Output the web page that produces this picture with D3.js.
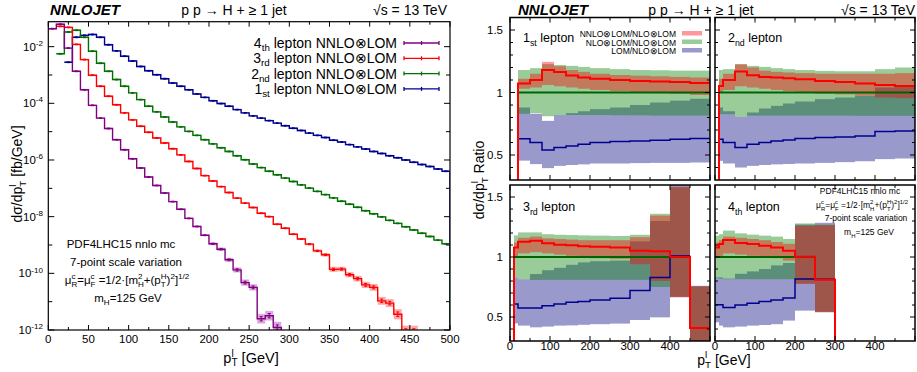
<!DOCTYPE html>
<html>
<head>
<meta charset="utf-8">
<script src="https://cdn.jsdelivr.net/npm/d3@7"></script>
<style>
  body { margin: 0; background: #fff; }
  svg { display: block; }
  text { font-family: "Liberation Sans", Arial, Helvetica, sans-serif; fill: #000; }
</style>
</head>
<body>
<script>
// ---------- data: dσ/dpT [fb/GeV], 10 GeV bins from 0 to 500 (null = empty bin)
const binW = 10

const lep1 = [null, null, 2.82e-3, 2.14e-2, 2.51e-2, 2.69e-2, 2.14e-2, 1.17e-2, 7.1e-3, 4.6e-3,
  3.1e-3, 2.0e-3, 1.41e-3, 1.02e-3, 7.4e-4, 5.2e-4, 4.0e-4, 3.0e-4, 2.14e-4, 1.62e-4,
  1.23e-4, 9.8e-5, 7.9e-5, 6.0e-5, 4.6e-5, 3.6e-5, 3.0e-5, 2.45e-5, 2.0e-5, 1.62e-5,
  1.32e-5, 1.10e-5, 8.9e-6, 7.4e-6, 6.2e-6, 5.0e-6, 4.3e-6, 3.5e-6, 2.9e-6, 2.45e-6,
  2.0e-6, 1.70e-6, 1.41e-6, 1.20e-6, 1.0e-6, 8.3e-7, 6.9e-7, 5.9e-7, 4.8e-7, 4.0e-7]

const lep2 = [null, 5.6e-3, 3.3e-2, 3.8e-2, 2.14e-2, 6.9e-3, 2.6e-3, 1.35e-3, 6.9e-4, 4.0e-4,
  2.34e-4, 1.35e-4, 7.9e-5, 5.0e-5, 3.3e-5, 2.2e-5, 1.48e-5, 1.02e-5, 7.4e-6, 5.2e-6,
  3.7e-6, 2.7e-6, 2.0e-6, 1.41e-6, 1.02e-6, 7.2e-7, 5.4e-7, 4.0e-7, 3.0e-7, 2.3e-7,
  1.74e-7, 1.32e-7, 1.02e-7, 7.8e-8, 6.0e-8, 4.6e-8, 3.5e-8, 2.75e-8, 2.14e-8, 1.62e-8,
  1.26e-8, 9.8e-9, 7.4e-9, 5.8e-9, 4.4e-9, 3.4e-9, 2.6e-9, 2.0e-9, 1.48e-9, 1.10e-9]

const lep3 = [null, 5.2e-2, 4.8e-2, 1.20e-2, 3.5e-3, 9.8e-4, 4.0e-4, 1.78e-4, 8.9e-5, 4.6e-5,
  2.6e-5, 1.55e-5, 9.5e-6, 6.0e-6, 4.0e-6, 2.5e-6, 1.51e-6, 8.9e-7, 5.0e-7, 2.8e-7,
  1.82e-7, 1.15e-7, 7.1e-8, 4.5e-8, 3.0e-8, 2.1e-8, 1.32e-8, 1.0e-8, 5.4e-9, 3.9e-9,
  2.4e-9, 1.62e-9, 1.07e-9, 6.2e-10, 4.5e-10, 1.38e-10, 1.41e-10, 8.9e-11, 6.5e-11, 3.9e-11,
  3.2e-11, 1.07e-11, 8.9e-12, 3.6e-12, 9e-13, 9e-13]

const lep4 = [4.3e-2, 6.2e-2, 8.9e-3, 1.35e-3, 3.0e-4, 8.5e-5, 3.0e-5, 1.29e-5, 5.2e-6, 2.3e-6,
  1.10e-6, 5.2e-7, 2.5e-7, 1.26e-7, 6.8e-8, 3.4e-8, 1.82e-8, 8.7e-9, 4.5e-9, 2.2e-9,
  1.10e-9, 7.1e-10, 3.0e-10, 1.32e-10, 4.7e-11, 3.2e-11, 2.5e-12, 3.2e-12, 1.23e-12]

// scale-uncertainty half widths, in decades
const err1 = [0, 0, 0.03, 0.03, 0.03, 0.03, 0.03, 0.03, 0.03, 0.03,
  0.03, 0.03, 0.03, 0.03, 0.03, 0.03, 0.03, 0.03, 0.03, 0.03,
  0.03, 0.03, 0.03, 0.03, 0.03, 0.03, 0.03, 0.03, 0.03, 0.03,
  0.03, 0.03, 0.03, 0.03, 0.03, 0.03, 0.03, 0.03, 0.03, 0.03,
  0.03, 0.03, 0.03, 0.03, 0.03, 0.03, 0.03, 0.03, 0.03, 0.03]
const err2 = err1.map((e, i) => i === 1 ? 0.03 : e)
const err3 = [0, 0.03, 0.03, 0.03, 0.03, 0.03, 0.03, 0.03, 0.03, 0.03,
  0.03, 0.03, 0.03, 0.03, 0.03, 0.03, 0.03, 0.03, 0.03, 0.03,
  0.03, 0.03, 0.03, 0.03, 0.03, 0.03, 0.03, 0.03, 0.03, 0.03,
  0.03, 0.03, 0.04, 0.05, 0.06, 0.09, 0.08, 0.09, 0.10, 0.11,
  0.12, 0.14, 0.14, 0.18, 0.20, 0.20]
const err4 = [0.03, 0.03, 0.03, 0.03, 0.03, 0.03, 0.03, 0.03, 0.03, 0.03,
  0.03, 0.03, 0.03, 0.03, 0.03, 0.03, 0.03, 0.03, 0.03, 0.03,
  0.05, 0.06, 0.07, 0.09, 0.11, 0.11, 0.17, 0.17, 0.20]

const legendRows = [
  { n: '4', sfx: 'th', vals: lep4, err: err4, color: '#800080', band: '#ddaadd' },
  { n: '3', sfx: 'rd', vals: lep3, err: err3, color: '#ff0000', band: '#ffaaaa' },
  { n: '2', sfx: 'nd', vals: lep2, err: err2, color: '#007000', band: '#a8d8a8' },
  { n: '1', sfx: 'st', vals: lep1, err: err1, color: '#000090', band: '#aaaadd' }
]

// ---------- ratio panels: bin edges and per-bin values (null = empty)
const edges = [0, 10, 20, 50, 80, 110, 140, 170, 200, 250, 300, 350, 400, 450, 500]

const ratio1 = {
  nnlo:   [null, null, 1.072, 1.10, 1.18, 1.165, 1.137, 1.12, 1.11, 1.10, 1.093, 1.088, 1.085, 1.077],
  nnloLo: [null, null, 1.03, 1.04, 1.06, 1.05, 1.04, 1.03, 1.02, 1.01, 1.0, 0.995, 0.99, 0.98],
  nnloHi: [null, null, 1.11, 1.15, 1.245, 1.21, 1.18, 1.165, 1.15, 1.14, 1.135, 1.13, 1.125, 1.12],
  nloLo:  [null, null, 0.83, 0.835, 0.81, 0.82, 0.82, 0.82, 0.82, 0.818, 0.817, 0.815, 0.815, 0.815],
  nloHi:  [null, null, 1.18, 1.195, 1.227, 1.22, 1.213, 1.205, 1.195, 1.187, 1.18, 1.178, 1.175, 1.175],
  nlo:    [null, null, 1, 1, 1, 1, 1, 1, 1, 1, 1, 1, 1, 1],
  lomLo:  [null, null, 0.455, 0.427, 0.395, 0.413, 0.42, 0.425, 0.432, 0.432, 0.435, 0.437, 0.437, 0.44],
  lomHi:  [null, null, 0.88, 0.83, 0.773, 0.82, 0.835, 0.85, 0.867, 0.88, 0.9, 0.92, 0.935, 0.95],
  lom:    [null, null, 0.63, 0.6, 0.541, 0.56, 0.573, 0.587, 0.6, 0.608, 0.613, 0.619, 0.627, 0.632]
}
const ratio2 = {
  nnlo:   [null, 1.053, 1.10, 1.168, 1.139, 1.125, 1.12, 1.115, 1.107, 1.093, 1.085, 1.072, 1.061, 1.053],
  nnloLo: [null, 1.0, 1.02, 1.05, 1.04, 1.03, 1.02, 1.01, 1.0, 0.99, 0.985, 0.975, 0.96, 0.955],
  nnloHi: [null, 1.11, 1.15, 1.225, 1.2, 1.175, 1.165, 1.16, 1.155, 1.15, 1.15, 1.15, 1.15, 1.155],
  nloLo:  [null, 0.827, 0.827, 0.805, 0.815, 0.815, 0.815, 0.815, 0.815, 0.815, 0.815, 0.813, 0.813, 0.813],
  nloHi:  [null, 1.18, 1.187, 1.227, 1.213, 1.205, 1.195, 1.187, 1.18, 1.173, 1.17, 1.17, 1.187, 1.2],
  nlo:    [null, 1, 1, 1, 1, 1, 1, 1, 1, 1, 1, 1, 1, 1],
  lomLo:  [null, 0.453, 0.432, 0.4, 0.413, 0.42, 0.425, 0.428, 0.432, 0.437, 0.443, 0.45, 0.467, 0.472],
  lomHi:  [null, 0.88, 0.85, 0.805, 0.84, 0.872, 0.893, 0.912, 0.928, 0.947, 0.96, 0.973, 1.04, 1.045],
  lom:    [null, 0.627, 0.6, 0.56, 0.587, 0.6, 0.613, 0.621, 0.632, 0.64, 0.645, 0.653, 0.688, 0.693]
}
const ratio3 = {
  nnlo:   [null, 1.08, 1.128, 1.136, 1.114, 1.103, 1.097, 1.089, 1.086, 1.08, 1.053, 1.047, 1.003, 0.408],
  nnloLo: [null, 1.0, 1.03, 1.04, 1.03, 1.02, 1.01, 1.0, 0.99, 0.985, 0.94, 0.80, 0.665, 0.2],
  nnloHi: [null, 1.12, 1.16, 1.17, 1.155, 1.15, 1.145, 1.14, 1.14, 1.14, 1.165, 1.345, 1.585, 0.755],
  nloLo:  [null, 0.83, 0.815, 0.808, 0.81, 0.81, 0.81, 0.81, 0.81, 0.81, 0.81, 0.75, 0.67, 0.2],
  nloHi:  [null, 1.18, 1.205, 1.205, 1.19, 1.185, 1.183, 1.18, 1.178, 1.175, 1.185, 1.36, 1.58, 0.755],
  nlo:    [null, 1, 1, 1, 1, 1, 1, 1, 1, 1, 1, 1, 1, null],
  lomLo:  [null, 0.447, 0.428, 0.414, 0.42, 0.428, 0.43, 0.435, 0.44, 0.445, 0.475, 0.497, 0.665, 0.2],
  lomHi:  [null, 0.83, 0.815, 0.858, 0.89, 0.91, 0.935, 0.955, 0.965, 0.97, 1.13, 1.30, 1.62, 0.76],
  lom:    [null, 0.608, 0.575, 0.575, 0.594, 0.608, 0.622, 0.63, 0.642, 0.656, 0.72, 0.83, 1.01, null]
}
const ratio4 = {
  nnlo:   [1.08, 1.108, 1.142, 1.117, 1.108, 1.094, 1.08, 1.053, 1.003, 0.811, null, null, null, null],
  nnloLo: [1.0, 1.01, 1.03, 1.02, 1.01, 1.0, 0.99, 0.97, 0.775, 0.54, null, null, null, null],
  nnloHi: [1.12, 1.14, 1.17, 1.16, 1.15, 1.14, 1.125, 1.11, 1.26, 1.265, null, null, null, null],
  nloLo:  [0.825, 0.82, 0.815, 0.815, 0.815, 0.815, 0.815, 0.815, 0.78, 0.545, null, null, null, null],
  nloHi:  [1.178, 1.19, 1.22, 1.197, 1.186, 1.178, 1.17, 1.15, 1.28, 1.27, null, null, null, null],
  nlo:    [1, 1, 1, 1, 1, 1, 1, 1, 1, null, null, null, null, null],
  lomLo:  [0.456, 0.428, 0.414, 0.42, 0.428, 0.433, 0.44, 0.47, 0.553, 0.54, null, null, null, null],
  lomHi:  [0.83, 0.83, 0.82, 0.86, 0.88, 0.9, 0.93, 0.95, 1.27, 1.285, null, null, null, null],
  lom:    [0.603, 0.603, 0.58, 0.6, 0.614, 0.63, 0.642, 0.658, 0.817, 0.814, null, null, null, null]
}

const xTicksLeft = d3.range(0, 501, 50)
const yTicksLeft = [1e-2, 1e-4, 1e-6, 1e-8, 1e-10, 1e-12]
const ratioTicks = [0.5, 1, 1.5]
const ratioXTicks = [0, 100, 200, 300, 400]

// ---------- helpers
const svg = d3.select('body').append('svg').attr('width', 917).attr('height', 372)

// text with sub/superscripts; kind ending in "@" is stacked over the previous piece
function rich(g, x, y, parts, size, anchor = 'start', subOff = 0.3, supOff = 0.42) {
  const t = g.append('text').attr('x', x).attr('y', y).attr('font-size', size).attr('text-anchor', anchor)
  let base = 0, prevLen = 0, pend = 0
  for (const p of parts) {
    const [s, k] = Array.isArray(p) ? p : [p, '']
    const off = k.startsWith('sub') ? subOff * size : k.startsWith('sup') ? -supOff * size : 0
    const ts = t.append('tspan').attr('dy', off - base).attr('font-size', k ? size * 0.7 : size).text(s)
    let dx = pend
    if (k.endsWith('@')) dx -= prevLen
    if (dx) ts.attr('dx', dx)
    const len = ts.node().getComputedTextLength()
    pend = k.endsWith('@') ? Math.max(0, prevLen - len) : 0
    prevLen = len
    base = off
  }
  return t
}

function title(x0, xc, x1) {
  svg.append('text').attr('x', x0).attr('y', 15).attr('font-size', 15)
    .attr('font-weight', 'bold').attr('font-style', 'italic').text('NNLOJET')
  svg.append('text').attr('x', xc).attr('y', 15).attr('font-size', 14)
    .attr('text-anchor', 'middle').text('p p → H + ≥ 1 jet')
  svg.append('text').attr('x', x1).attr('y', 15).attr('font-size', 14)
    .attr('text-anchor', 'end').text('√s  = 13 TeV')
}

// ---------- left panel
const L = { x0: 48.3, x1: 450, y0: 21.7, y1: 330 }
const xL = d3.scaleLinear().domain([0, 500]).range([L.x0, L.x1])
const yL = d3.scaleLog().domain([1e-12, 0.076]).range([L.y1, L.y0])

svg.append('clipPath').attr('id', 'clipL').append('rect')
  .attr('x', L.x0).attr('y', L.y0).attr('width', L.x1 - L.x0).attr('height', L.y1 - L.y0)
const gL = svg.append('g').attr('clip-path', 'url(#clipL)')

function stepLog(vals) {
  let d = '', open = false
  vals.forEach((v, i) => {
    if (v == null) { if (open) d += `L${xL(i * binW)},${L.y1 + 2}`; open = false; return }
    const yy = Math.min(L.y1 + 2, yL(v))
    d += (open ? 'L' : 'M') + `${xL(i * binW)},${yy}L${xL((i + 1) * binW)},${yy}`
    open = true
  })
  if (open) d += `L${xL(vals.length * binW)},${L.y1 + 2}`
  return d
}

// bands
legendRows.slice().reverse().forEach(s => {
  gL.append('g').selectAll('rect')
    .data(s.vals.map((v, i) => ({ v, i, e: s.err[i] })).filter(d => d.v != null))
    .join('rect')
    .attr('x', d => xL(d.i * binW))
    .attr('width', xL(binW) - xL(0))
    .attr('y', d => yL(d.v * Math.pow(10, d.e)))
    .attr('height', d => Math.max(0, yL(d.v * Math.pow(10, -d.e)) - yL(d.v * Math.pow(10, d.e))))
    .attr('fill', s.band)
})
// lines + error bars
legendRows.slice().reverse().forEach(s => {
  gL.append('path').attr('d', stepLog(s.vals)).attr('fill', 'none')
    .attr('stroke', s.color).attr('stroke-width', 1.4)
  const eb = s.vals.map((v, i) => ({ v, i, e: s.err[i] * 0.45 })).filter(d => d.v != null)
  const g = gL.append('g').attr('stroke', s.color).attr('stroke-width', 1)
  eb.forEach(d => {
    const cx = xL((d.i + 0.5) * binW)
    const ya = yL(d.v * Math.pow(10, d.e)), yb = yL(d.v * Math.pow(10, -d.e))
    g.append('line').attr('x1', cx).attr('x2', cx).attr('y1', ya).attr('y2', yb)
    g.append('line').attr('x1', cx - 1.5).attr('x2', cx + 1.5).attr('y1', ya).attr('y2', ya)
    g.append('line').attr('x1', cx - 1.5).attr('x2', cx + 1.5).attr('y1', yb).attr('y2', yb)
  })
})

// frame + ticks
svg.append('rect').attr('x', L.x0).attr('y', L.y0).attr('width', L.x1 - L.x0).attr('height', L.y1 - L.y0)
  .attr('fill', 'none').attr('stroke', '#000').attr('stroke-width', 1.2)
const tk = svg.append('g').attr('stroke', '#000').attr('stroke-width', 1)
d3.range(0, 501, 25).forEach(v => {
  const len = v % 50 === 0 ? 5 : 3
  tk.append('line').attr('x1', xL(v)).attr('x2', xL(v)).attr('y1', L.y1).attr('y2', L.y1 - len)
  tk.append('line').attr('x1', xL(v)).attr('x2', xL(v)).attr('y1', L.y0).attr('y2', L.y0 + len)
})
d3.range(-12, -1).forEach(p => {
  const yy = yL(Math.pow(10, p))
  const len = p % 2 === 0 ? 6 : 4
  tk.append('line').attr('x1', L.x0).attr('x2', L.x0 + len).attr('y1', yy).attr('y2', yy)
  tk.append('line').attr('x1', L.x1).attr('x2', L.x1 - len).attr('y1', yy).attr('y2', yy)
})
xTicksLeft.forEach(v => {
  svg.append('text').attr('x', xL(v)).attr('y', 343).attr('font-size', 11.5)
    .attr('text-anchor', 'middle').text(v)
})
yTicksLeft.forEach(v => {
  rich(svg, 43, yL(v) + 4, ['10', [String(Math.round(Math.log10(v))), 'sup']], 11.5, 'end')
})
rich(svg, 251, 363, ['p', ['T', 'sub'], ['l', 'sup@'], ' [GeV]'], 14.5, 'middle', 0.22)
rich(svg, 0, 0, ['dσ/dp', ['T', 'sub'], ['l', 'sup@'], ' [fb/GeV]'], 14, 'middle')
  .attr('transform', 'translate(22,174) rotate(-90)')

// legend
legendRows.forEach((s, i) => {
  const yy = 48 + i * 15.3
  rich(svg, 397, yy, [s.n, [s.sfx, 'sub'], ' lepton NNLO⊗LOM'], 14, 'end', 0.22)
  const ly = yy - 5
  const g = svg.append('g').attr('stroke', s.color).attr('stroke-width', 1.3)
  g.append('line').attr('x1', 404).attr('x2', 439).attr('y1', ly).attr('y2', ly)
  ;[404, 421.5, 439].forEach(x => g.append('line').attr('x1', x).attr('x2', x).attr('y1', ly - 2).attr('y2', ly + 2))
})

// annotation
const annL = svg.append('g')
rich(annL, 121, 248, ['PDF4LHC15 nnlo mc'], 11.5, 'middle')
rich(annL, 126, 266, ['7-point scale variation'], 11.5, 'middle')
rich(annL, 127, 284, ['μ', ['R', 'sub'], ['c', 'sup@'], '=μ', ['F', 'sub'], ['c', 'sup@'],
  ' =1/2·[m', ['2', 'sup'], ['H', 'sub@'], '+(p', ['T', 'sub'], ['H', 'sup@'], ')', ['2', 'sup'], ']', ['1/2', 'sup']], 11.5, 'middle')
rich(annL, 128, 302, ['m', ['H', 'sub'], '=125 GeV'], 11.5, 'middle')

title(50, 234, 447)

// ---------- ratio panels
const panels = [
  { x0: 510, x1: 710, y0: 17.5, y1: 180, d: ratio1, lab: ['1', ['st', 'sub'], ' lepton'], ly: 42, yl: true, legend: true },
  { x0: 715, x1: 915, y0: 17.5, y1: 180, d: ratio2, lab: ['2', ['nd', 'sub'], ' lepton'], ly: 42 },
  { x0: 510, x1: 710, y0: 185, y1: 341, d: ratio3, lab: ['3', ['rd', 'sub'], ' lepton'], ly: 211, yl: true, xl: true },
  { x0: 715, x1: 915, y0: 185, y1: 341, d: ratio4, lab: ['4', ['th', 'sub'], ' lepton'], ly: 211, xl: true, annot: true }
]

const bandStyle = [
  { lo: 'lomLo', hi: 'lomHi', fill: '#000080' },
  { lo: 'nloLo', hi: 'nloHi', fill: '#008000' },
  { lo: 'nnloLo', hi: 'nnloHi', fill: '#ff0000' }
]

panels.forEach((p, k) => {
  const x = d3.scaleLinear().domain([0, 500]).range([p.x0, p.x1])
  const y = d3.scaleLinear().domain([0.3, 1.6]).range([p.y1, p.y0])
  const id = 'clipR' + k
  svg.append('clipPath').attr('id', id).append('rect')
    .attr('x', p.x0).attr('y', p.y0).attr('width', p.x1 - p.x0).attr('height', p.y1 - p.y0)
  const g = svg.append('g').attr('clip-path', `url(#${id})`)

  bandStyle.forEach(b => {
    g.append('g').selectAll('rect')
      .data(p.d[b.lo].map((lo, i) => ({ lo, hi: p.d[b.hi][i], i })).filter(d => d.lo != null))
      .join('rect')
      .attr('x', d => x(edges[d.i]))
      .attr('width', d => x(edges[d.i + 1]) - x(edges[d.i]))
      .attr('y', d => y(d.hi))
      .attr('height', d => y(d.lo) - y(d.hi))
      .attr('fill', b.fill).attr('fill-opacity', 0.4)
  })

  function step(vals, drop) {
    let d = '', open = false
    const bot = p.y1 + 3
    vals.forEach((v, i) => {
      if (v == null) {
        if (open && drop) d += `L${x(edges[i])},${bot}`
        open = false
        return
      }
      if (!open) d += drop && i > 0 ? `M${x(edges[i])},${bot}L${x(edges[i])},${y(v)}` : `M${x(edges[i])},${y(v)}`
      else d += `L${x(edges[i])},${y(v)}`
      d += `L${x(edges[i + 1])},${y(v)}`
      open = true
    })
    return d
  }
  g.append('path').attr('d', step(p.d.nlo, false)).attr('fill', 'none').attr('stroke', '#006400').attr('stroke-width', 2)
  g.append('path').attr('d', step(p.d.lom, false)).attr('fill', 'none').attr('stroke', '#000090').attr('stroke-width', 1.5)
  g.append('path').attr('d', step(p.d.nnlo, true)).attr('fill', 'none').attr('stroke', '#ff0000').attr('stroke-width', 2)

  // frame + ticks
  svg.append('rect').attr('x', p.x0).attr('y', p.y0).attr('width', p.x1 - p.x0).attr('height', p.y1 - p.y0)
    .attr('fill', 'none').attr('stroke', '#000').attr('stroke-width', 1.5)
  const t = svg.append('g').attr('stroke', '#000').attr('stroke-width', 1)
  d3.range(0, 501, 50).forEach(v => {
    const len = v % 100 === 0 ? 5 : 3
    t.append('line').attr('x1', x(v)).attr('x2', x(v)).attr('y1', p.y1).attr('y2', p.y1 - len)
    t.append('line').attr('x1', x(v)).attr('x2', x(v)).attr('y1', p.y0).attr('y2', p.y0 + len)
  })
  d3.range(4, 16).forEach(j => {
    const v = j / 10
    const len = j % 5 === 0 ? 5 : 3
    t.append('line').attr('x1', p.x0).attr('x2', p.x0 + len).attr('y1', y(v)).attr('y2', y(v))
    t.append('line').attr('x1', p.x1).attr('x2', p.x1 - len).attr('y1', y(v)).attr('y2', y(v))
  })
  if (p.yl) ratioTicks.forEach(v => {
    svg.append('text').attr('x', 503).attr('y', y(v) + 4).attr('font-size', 11.5)
      .attr('text-anchor', 'end').text(v)
  })
  if (p.xl) ratioXTicks.forEach(v => {
    svg.append('text').attr('x', x(v)).attr('y', 350).attr('font-size', 11.5)
      .attr('text-anchor', 'middle').text(v)
  })
  rich(svg, p.x0 + 13, p.ly, p.lab, 12.5)

  if (p.legend) {
    const items = [['NNLO⊗LOM/NLO⊗LOM', '#ff0000'], ['NLO⊗LOM/NLO⊗LOM', '#008000'], ['LOM/NLO⊗LOM', '#000080']]
    items.forEach(([txt, c], i) => {
      const yy = 37 + i * 8.5
      svg.append('text').attr('x', 676).attr('y', yy).attr('font-size', 8.5).attr('text-anchor', 'end').text(txt)
      svg.append('rect').attr('x', 682).attr('y', yy - 6).attr('width', 20).attr('height', 4.5)
        .attr('fill', c).attr('fill-opacity', 0.4)
    })
  }
  if (p.annot) {
    rich(svg, 860, 194, ['PDF4LHC15 nnlo mc'], 8.5, 'middle')
    rich(svg, 862, 208, ['μ', ['R', 'sub'], ['c', 'sup@'], '=μ', ['F', 'sub'], ['c', 'sup@'],
      ' =1/2·[m', ['2', 'sup'], ['H', 'sub@'], '+(p', ['T', 'sub'], ['H', 'sup@'], ')', ['2', 'sup'], ']', ['1/2', 'sup']], 8.5, 'middle')
    rich(svg, 866, 221, ['7-point scale variation'], 8.5, 'middle')
    rich(svg, 869, 235, ['m', ['H', 'sub'], '=125 GeV'], 8.5, 'middle')
  }
})

rich(svg, 724, 364.5, ['p', ['T', 'sub'], ['l', 'sup@'], ' [GeV]'], 14, 'middle', 0.28, 0.5)
rich(svg, 0, 0, ['dσ/dp', ['T', 'sub'], ['l', 'sup@'], ' Ratio'], 14, 'middle')
  .attr('transform', 'translate(484,180) rotate(-90)')

title(518, 701, 915)
</script>
</body>
</html>
